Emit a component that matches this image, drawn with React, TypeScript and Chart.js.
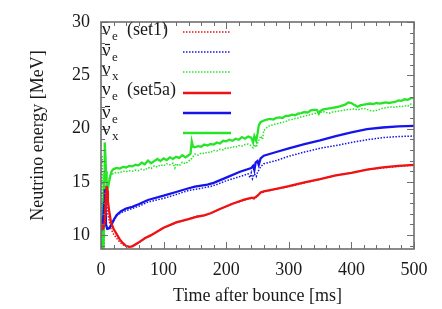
import React, { useEffect, useRef } from 'react';
import { Chart, registerables } from 'chart.js';
Chart.register(...registerables);

const FONT = '"Liberation Serif", "Times New Roman", serif';

// nu_e (set1) - dotted red
const tNueSet1 = [0,1,2,3,4,5,6,7,8,9,10,11,13,16,20,25,30,35,40,45,50,60,70,80,90,100,120,140,155,165,175,190,210,230,240,245,250,255,260,280,300,325,350,375,400,425,450,475,500];
const vNueSet1 = [10.8,11.2,10.5,11.4,10.9,11.6,12.3,13.8,14.3,13.6,12.6,11.9,11.4,10.6,10.1,9.7,9.35,9.1,8.95,8.88,8.95,9.3,9.7,10.0,10.35,10.7,11.15,11.55,11.8,11.85,12.05,12.45,12.95,13.3,13.45,13.4,13.65,13.95,14.05,14.35,14.55,14.9,15.25,15.6,15.85,16.15,16.3,16.45,16.55];
// nu_e (set5a) - solid red
const tNueSet5a = [0,2,4,6,7,8,9,10,11,13,16,20,25,30,35,40,45,50,60,70,80,90,100,120,140,155,165,175,190,210,230,240,245,250,255,260,280,300,325,350,375,400,425,450,475,500];
const vNueSet5a = [10.5,10.9,10.7,11.2,12.5,14.0,14.6,14.2,13.2,12.3,11.2,10.6,10.1,9.6,9.25,9.0,8.9,8.95,9.3,9.7,10.0,10.35,10.7,11.2,11.5,11.75,11.85,12.05,12.45,12.95,13.35,13.5,13.5,13.7,14.0,14.1,14.35,14.6,14.95,15.25,15.6,15.85,16.15,16.35,16.5,16.6];

// anti nu_e (set1) - dotted blue
const tNuebSet1 = [0,2,4,6,8,10,12,14,16,20,25,32,40,50,60,75,100,120,140,160,174,185,200,222,235,238,240,242,245,248,250,255,260,280,300,325,350,375,400,425,450,475,500];
const vNuebSet1 = [10.5,11.0,12.5,14.2,11.0,10.6,10.5,10.7,10.9,11.3,11.8,12.1,12.3,12.5,12.7,13.1,13.45,13.8,14.2,14.4,14.55,14.75,15.1,15.5,15.75,15.4,15.85,15.3,15.75,15.5,15.9,16.4,16.7,17.0,17.4,17.8,18.15,18.4,18.7,18.95,19.15,19.25,19.3];
// anti nu_e (set5a) - solid blue
const tNuebSet5a = [0,3,5,6,7,8,10,13,16,20,25,32,40,50,60,75,100,120,140,150,160,170,180,200,222,240,243,245,247,250,252,255,260,280,300,325,350,375,400,425,450,475,500];
const vNuebSet5a = [10.4,11.0,13.0,14.3,13.0,11.0,10.6,10.65,10.9,11.4,11.9,12.25,12.5,12.65,12.9,13.3,13.7,14.05,14.4,14.55,14.65,14.75,14.9,15.4,15.95,16.3,16.5,16.1,16.8,16.95,16.6,17.2,17.45,17.8,18.15,18.55,18.9,19.3,19.65,19.95,20.1,20.2,20.25];

// nu_x (set1) - dotted green
const tNuxSet1 = [0,1,2,3,4,5,6,8,10,12,15,20,25,30,35,40,45,50,55,60,65,70,75,80,85,90,95,100,105,110,115,118,120,125,130,135,140,145,150,155,160,165,170,175,180,185,190,195,200,205,210,215,220,225,230,235,240,243,245,248,250,255,258,260,265,270,275,280,285,290,295,300,305,310,315,320,325,330,335,340,345,350,355,360,365,370,375,380,385,390,395,400,405,410,415,420,425,430,435,440,445,450,455,460,465,470,475,480,485,490,495,500];
const vNuxSet1 = [8.0,13.0,17.5,9.0,15.8,8.0,14.5,14.6,14.8,15.2,15.6,15.8,15.9,15.85,16.0,15.95,16.05,16.0,16.1,16.05,16.2,16.1,16.35,16.25,16.5,16.4,16.6,16.5,16.7,16.6,16.75,16.3,16.7,16.5,16.85,16.7,16.95,17.2,17.6,17.5,17.7,17.65,17.8,17.75,17.95,17.9,18.05,18.0,18.2,18.15,18.3,18.25,18.4,18.35,18.5,18.55,18.4,18.2,18.5,18.25,18.6,19.3,19.0,19.8,20.1,20.3,20.35,20.45,20.5,20.6,20.65,20.8,20.85,20.95,21.0,21.1,21.15,21.25,21.3,21.4,21.45,21.5,21.6,21.5,21.45,21.55,21.6,21.65,21.7,21.75,21.8,21.8,21.85,21.75,21.85,21.9,21.8,21.7,21.65,21.7,21.8,21.9,21.95,22.0,22.05,22.0,22.1,22.05,22.15,22.1,22.3,22.2];
// nu_x (set5a) - solid green
const tNuxSet5a = [0,1,2,3,4,5,6,7,8,9,11,13,15,17,20,25,30,35,40,45,50,55,60,65,70,75,80,85,90,95,100,105,110,115,120,125,130,135,140,143,145,147,150,155,160,165,170,175,180,185,190,195,200,205,210,215,220,225,230,235,240,243,245,248,250,252,255,260,265,270,275,280,285,290,295,300,305,310,315,320,325,330,335,340,345,348,350,355,360,365,370,375,380,385,390,395,400,405,410,415,420,425,430,435,440,445,450,455,460,465,470,475,480,485,490,495,500];
const vNuxSet5a = [8.0,11.0,8.0,13.5,8.0,15.0,18.7,17.5,16.0,15.0,14.4,15.0,15.6,16.0,16.2,16.3,16.25,16.4,16.35,16.5,16.45,16.6,16.55,16.8,16.65,17.0,16.75,16.95,17.15,16.95,17.2,17.05,17.3,17.15,17.35,17.25,17.5,17.3,17.5,17.65,18.8,18.3,18.25,18.35,18.3,18.5,18.4,18.55,18.5,18.7,18.6,18.85,18.8,18.95,18.85,19.05,18.95,19.2,19.05,19.25,19.15,18.7,19.3,18.85,19.5,20.3,20.6,20.75,20.85,20.9,20.85,21.0,21.05,21.0,21.2,21.2,21.3,21.25,21.4,21.45,21.55,21.5,21.7,21.75,21.75,21.4,21.65,21.8,21.85,21.9,21.95,22.0,22.05,22.15,22.25,22.45,22.4,22.2,22.05,22.2,22.25,22.3,22.35,22.3,22.4,22.35,22.4,22.45,22.4,22.45,22.5,22.65,22.6,22.75,22.7,22.85,22.85];

const xMin = 0, xMax = 500, yMin = 8.7, yMax = 30;
const yTickValues = [10, 15, 20, 25, 30];

const RED = 'rgb(238,18,18)';
const BLUE = 'rgb(20,20,235)';
const GREEN = 'rgb(40,228,40)';

// legend entries
const legendSubs = ['e', 'e', 'x', 'e', 'e', 'x'];
const legendBars = [false, true, false, false, true, false];
const legendSuffix = ['(set1)', '', '', '(set5a)', '', ''];
const legendColors = [RED, BLUE, GREEN, RED, BLUE, GREEN];
const legendDotted = [true, true, true, false, false, false];

const pts = (t: number[], v: number[]) => t.map((x, i) => ({ x, y: v[i] }));

const framePlugin = {
  id: 'frameTicksLegend',
  afterDraw(chart: any) {
    const { ctx, chartArea: a, scales } = chart;
    const xs = scales.x, ys = scales.y;
    ctx.save();
    ctx.strokeStyle = '#6e6e6e';
    ctx.lineWidth = 1;
    const seg = (x1: number, y1: number, x2: number, y2: number) => {
      ctx.beginPath(); ctx.moveTo(x1, y1); ctx.lineTo(x2, y2); ctx.stroke();
    };
    for (let v = xMin; v <= xMax; v += 20) {
      const px = Math.round(xs.getPixelForValue(v)) + 0.5;
      const len = v % 100 === 0 ? 7 : 4;
      seg(px, a.bottom, px, a.bottom - len);
      seg(px, a.top, px, a.top + len);
    }
    for (let v = 9; v <= 30; v += 1) {
      const py = Math.round(ys.getPixelForValue(v)) + 0.5;
      const len = v % 5 === 0 ? 7 : 4;
      seg(a.left, py, a.left + len, py);
      seg(a.right, py, a.right - len, py);
    }
    ctx.lineWidth = 1.6;
    ctx.strokeRect(a.left, a.top, a.right - a.left, a.bottom - a.top);

    // legend
    const baseOff = [13, 34, 53, 73, 96, 113];
    const sampleOff = [10, 30, 50, 71, 91, 111];
    ctx.fillStyle = '#1a1a1a';
    ctx.textBaseline = 'alphabetic';
    ctx.textAlign = 'left';
    for (let i = 0; i < 6; i++) {
      const by = a.top + baseOff[i];
      const lx = a.left + 1;
      ctx.font = `19px ${FONT}`;
      ctx.fillText('ν', lx, by);
      if (legendBars[i]) {
        ctx.strokeStyle = '#1a1a1a';
        ctx.lineWidth = 1.2;
        seg(lx + 3, by - 11.5, lx + 8, by - 11.5);
      }
      ctx.font = `13px ${FONT}`;
      ctx.fillText(legendSubs[i], lx + 10, by + 5);
      if (legendSuffix[i]) {
        ctx.font = `18px ${FONT}`;
        ctx.fillText(legendSuffix[i], lx + 25, by);
      }
      const sy = a.top + sampleOff[i];
      ctx.strokeStyle = legendColors[i];
      if (legendDotted[i]) {
        ctx.lineWidth = 1.5;
        ctx.setLineDash([1.5, 1.5]);
      } else {
        ctx.lineWidth = 2.5;
        ctx.setLineDash([]);
      }
      seg(a.left + 82, sy, a.left + 130, sy);
      ctx.setLineDash([]);
    }
    ctx.restore();
  },
};

export default function App() {
  const ref = useRef<HTMLCanvasElement | null>(null);
  useEffect(() => {
    if (!ref.current) return;
    const dotted = (label: string, t: number[], v: number[], color: string) => ({
      label, data: pts(t, v), borderColor: color, backgroundColor: color,
      borderWidth: 1.5, borderDash: [1.5, 1.5], pointRadius: 0, tension: 0, clip: 0, order: 2,
    });
    const solid = (label: string, t: number[], v: number[], color: string) => ({
      label, data: pts(t, v), borderColor: color, backgroundColor: color,
      borderWidth: 2.3, pointRadius: 0, tension: 0, clip: 0, order: 1,
    });
    const chart = new Chart(ref.current, {
      type: 'line',
      data: {
        datasets: [
          dotted('νe (set1)', tNueSet1, vNueSet1, RED),
          dotted('anti-νe (set1)', tNuebSet1, vNuebSet1, BLUE),
          dotted('νx (set1)', tNuxSet1, vNuxSet1, GREEN),
          solid('νe (set5a)', tNueSet5a, vNueSet5a, RED),
          solid('anti-νe (set5a)', tNuebSet5a, vNuebSet5a, BLUE),
          solid('νx (set5a)', tNuxSet5a, vNuxSet5a, GREEN),
        ] as any,
      },
      options: {
        animation: false,
        responsive: false,
        maintainAspectRatio: false,
        events: [],
        layout: { padding: { left: 0, right: 28, top: 22, bottom: 0 } },
        plugins: { legend: { display: false }, tooltip: { enabled: false } },
        scales: {
          x: {
            type: 'linear', min: xMin, max: xMax,
            grid: { display: false, drawTicks: false },
            border: { display: false },
            ticks: { stepSize: 100, padding: 10, color: '#1a1a1a', font: { family: FONT, size: 18 }, maxRotation: 0 },
            title: { display: true, text: 'Time after bounce [ms]', color: '#1a1a1a', font: { family: FONT, size: 18 }, padding: { top: 0, bottom: 2 } },
            afterFit: (s: any) => { s.height = 60; },
          },
          y: {
            type: 'linear', min: yMin, max: yMax,
            grid: { display: false, drawTicks: false },
            border: { display: false },
            ticks: { padding: 11, color: '#1a1a1a', font: { family: FONT, size: 18 } },
            afterBuildTicks: (s: any) => { s.ticks = yTickValues.map((value) => ({ value })); },
            title: { display: true, text: 'Neutrino energy [MeV]', color: '#1a1a1a', font: { family: FONT, size: 18 }, padding: { top: 27, bottom: 0 } },
            afterFit: (s: any) => { s.width = 101; },
          },
        },
      } as any,
      plugins: [framePlugin],
    });
    return () => chart.destroy();
  }, []);
  return (
    <div style={{ position: 'fixed', left: 0, top: 0, width: 442, height: 309, background: '#fff' }}>
      <canvas ref={ref} width={442} height={309} style={{ width: 442, height: 309, display: 'block' }} />
    </div>
  );
}
